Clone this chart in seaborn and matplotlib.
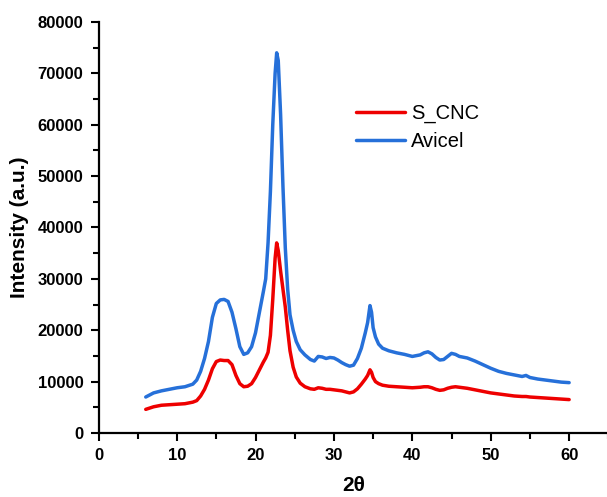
import pandas as pd
import seaborn as sns
import matplotlib.pyplot as plt
from matplotlib.ticker import MultipleLocator

# 2-theta positions (deg)
two_theta = [6, 7, 8, 9, 10, 11, 12, 12.5, 13, 13.5, 14, 14.5, 15, 15.5, 16, 16.5,
             17, 17.5, 18, 18.5, 19, 19.5, 20, 20.5, 21, 21.3, 21.6, 21.9, 22.2,
             22.5, 22.7, 22.9, 23.2, 23.5, 23.8, 24.1, 24.4, 24.8, 25.2, 25.7,
             26.3, 27, 27.5, 28, 28.5, 29, 29.5, 30, 30.5, 31, 31.5, 32, 32.5,
             33, 33.5, 34, 34.3, 34.6, 34.8, 35, 35.3, 35.7, 36.2, 37, 38, 39,
             40, 41, 41.5, 42, 42.5, 43, 43.5, 44, 44.5, 45, 45.5, 46, 47, 48,
             49, 50, 51, 52, 53, 54, 54.5, 55, 56, 57, 58, 59, 60]

avicel = [7000, 7800, 8200, 8500, 8800, 9000, 9500, 10300, 12000, 14500, 17800,
          22500, 25200, 25900, 26000, 25600, 23500, 20300, 16800, 15300, 15600,
          16800, 19500, 23500, 27500, 30000, 37000, 47000, 60000, 70000, 74000,
          72500, 62000, 48000, 36000, 28000, 23000, 20000, 17800, 16200, 15200,
          14300, 14000, 14900, 14800, 14500, 14700, 14600, 14200, 13700, 13300,
          13000, 13200, 14500, 16500, 19500, 21500, 24800, 23500, 20500, 18700,
          17300, 16500, 16000, 15600, 15300, 14900, 15200, 15600, 15800, 15400,
          14700, 14200, 14300, 14900, 15500, 15300, 14900, 14600, 14000, 13300,
          12600, 12000, 11600, 11300, 11000, 11200, 10800, 10500, 10300, 10100,
          9900, 9800]

s_cnc = [4600, 5100, 5400, 5500, 5600, 5700, 6000, 6300, 7200, 8500, 10300,
         12500, 13900, 14200, 14100, 14100, 13300, 11200, 9600, 9000, 9100,
         9600, 10800, 12300, 13800, 14600, 15700, 19000, 26000, 34000, 37000,
         35500, 31500, 28000, 24500, 20000, 16000, 12800, 10900, 9700, 9000,
         8600, 8500, 8800, 8700, 8500, 8500, 8400, 8300, 8200, 8000, 7800, 8000,
         8600, 9500, 10500, 11200, 12300, 11800, 10800, 10000, 9600, 9300, 9100,
         9000, 8900, 8800, 8900, 9000, 9000, 8800, 8500, 8300, 8400, 8700, 8900,
         9000, 8900, 8700, 8400, 8100, 7800, 7600, 7400, 7200, 7100, 7100, 7000,
         6900, 6800, 6700, 6600, 6500]

samples = ['S_CNC', 'Avicel']
colors = {'S_CNC': '#ee0000', 'Avicel': '#2670d9'}

df = pd.concat([
    pd.DataFrame({'two_theta': two_theta, 'intensity': s_cnc, 'sample': 'S_CNC'}),
    pd.DataFrame({'two_theta': two_theta, 'intensity': avicel, 'sample': 'Avicel'}),
])

sns.set_style('ticks')
plt.rcParams['font.family'] = ['Liberation Sans', 'DejaVu Sans']

fig = plt.figure(figsize=(6.07, 4.97), dpi=100)
ax = fig.add_axes([0.1626, 0.1288, 0.8396, 0.827])

sns.lineplot(data=df, x='two_theta', y='intensity', hue='sample',
             hue_order=samples, palette=colors, linewidth=2.5,
             estimator=None, sort=False, ax=ax)

ax.set_xlim(0, 65)
ax.set_ylim(0, 80000)
ax.xaxis.set_major_locator(MultipleLocator(10))
ax.xaxis.set_minor_locator(MultipleLocator(5))
ax.yaxis.set_major_locator(MultipleLocator(10000))
ax.yaxis.set_minor_locator(MultipleLocator(5000))
ax.set_xticks(range(0, 61, 10))
ax.tick_params(which='major', direction='out', length=6, width=1.5,
               labelsize=12, pad=5, colors='black')
ax.tick_params(which='minor', direction='out', length=4, width=1.5,
               colors='black')
for lbl in ax.get_xticklabels() + ax.get_yticklabels():
    lbl.set_fontweight('bold')

for side in ['top', 'right']:
    ax.spines[side].set_visible(False)
for side in ['left', 'bottom']:
    ax.spines[side].set_linewidth(1.6)
    ax.spines[side].set_color('black')

ax.set_xlabel('2θ', fontsize=15, fontweight='bold', labelpad=9, color='black')
ax.set_ylabel('Intensity (a.u.)', fontsize=15, fontweight='bold', labelpad=6,
              color='black')

leg = ax.legend(title=None, frameon=False, fontsize=14.5, loc='upper left',
                bbox_to_anchor=(0.49, 0.82), handlelength=2.4,
                handletextpad=0.3, labelspacing=0.45, borderaxespad=0)
for txt in leg.get_texts():
    txt.set_color('black')

fig.savefig('out.png', dpi=100)
